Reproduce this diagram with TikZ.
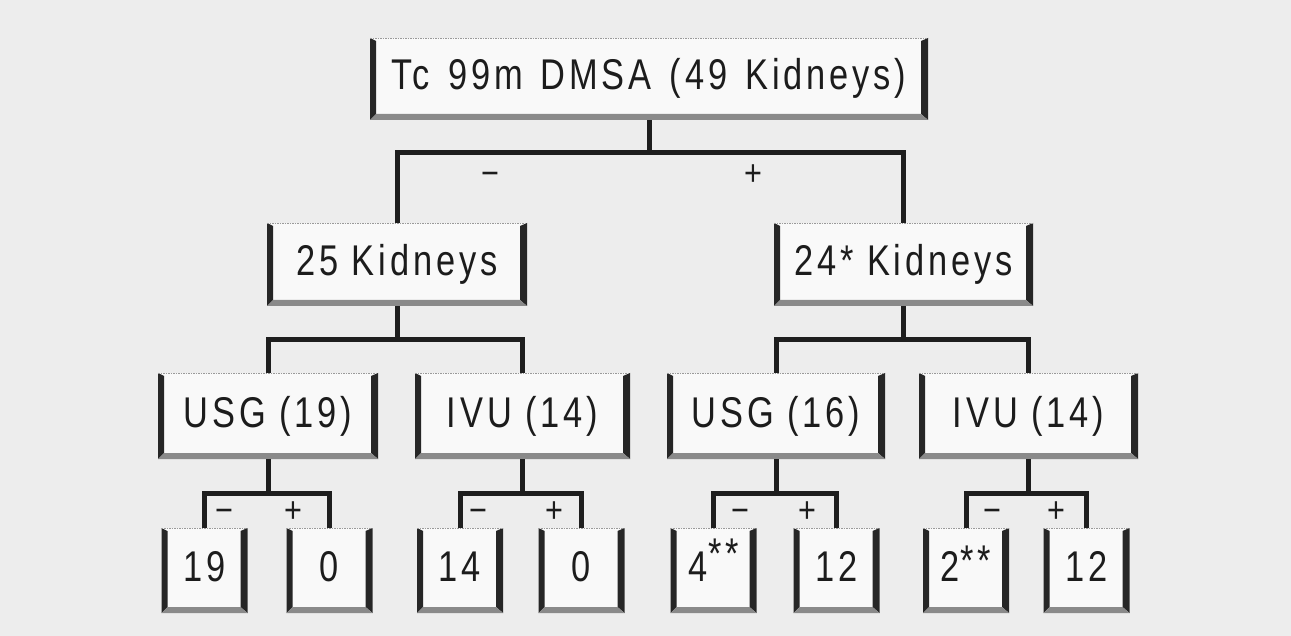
\documentclass[tikz,border=0pt]{standalone}
\usepackage{fontspec}
\setmainfont{Liberation Sans}
\newfontfamily\boxfont[FakeStretch=0.8,LetterSpace=9]{Liberation Sans}
\newfontfamily\signfont[FakeStretch=0.85]{Liberation Sans}
\definecolor{bgc}{HTML}{EDEDED}
\definecolor{boxfill}{HTML}{F9F9F9}
\definecolor{bandc}{HTML}{262626}
\definecolor{botc}{HTML}{8A8A8A}
\definecolor{topc}{HTML}{9A9A9A}
\definecolor{textc}{HTML}{1C1C1C}
\definecolor{linec}{HTML}{1E1E1E}
\begin{document}
\begin{tikzpicture}[x=1pt,y=-1pt,
  bevelbox/.style={inner sep=0pt, fill=boxfill, text=textc,
    text height=30pt, text depth=8pt,
    font=\boxfont\fontsize{43}{43}\selectfont,
    path picture={
      \fill[bandc] (path picture bounding box.north west) -- (path picture bounding box.south west)
        -- ([shift={(6pt,6pt)}]path picture bounding box.south west)
        -- ([shift={(6pt,-3pt)}]path picture bounding box.north west) -- cycle;
      \fill[bandc] (path picture bounding box.north east) -- (path picture bounding box.south east)
        -- ([shift={(-7pt,6pt)}]path picture bounding box.south east)
        -- ([shift={(-7pt,-3pt)}]path picture bounding box.north east) -- cycle;
      \fill[botc] (path picture bounding box.south west) -- (path picture bounding box.south east)
        -- ([shift={(-7pt,6pt)}]path picture bounding box.south east)
        -- ([shift={(6pt,6pt)}]path picture bounding box.south west) -- cycle;
      \draw[topc, line width=1.4pt, dash pattern=on 1.5pt off 1pt]
        ([yshift=-0.7pt]path picture bounding box.north west) -- ([yshift=-0.7pt]path picture bounding box.north east);
    }},
  leafbox/.style={bevelbox, minimum width=86pt, minimum height=85pt},
  midbox/.style={bevelbox, minimum height=86pt},
  conn/.style={draw=linec, line width=5pt, line cap=butt, line join=miter},
  sign/.style={inner sep=0pt, text=textc, text height=24pt, text depth=0pt,
    font=\signfont\fontsize{36}{36}\selectfont}
]
\fill[bgc] (0,0) rectangle (1291,636);
\useasboundingbox (0,0) rectangle (1291,636);

% boxes
\node[bevelbox, minimum width=558pt, minimum height=82pt] (top) at (649,79) {Tc\hspace{18pt}99m\hspace{18pt}DMSA\hspace{18pt}(49\hspace{18pt}Kidneys)};
\node[bevelbox, minimum width=260pt, minimum height=83pt] (kl) at (397,264.5) {25 Kidneys};
\node[bevelbox, minimum width=259pt, minimum height=83pt] (kr) at (903.5,264.5) {24* Kidneys};

\node[midbox, minimum width=220pt] (usgl) at (268,416) {USG (19)};
\node[midbox, minimum width=215pt] (ivul) at (522.5,416) {IVU (14)};
\node[midbox, minimum width=218pt] (usgr) at (776,416) {USG (16)};
\node[midbox, minimum width=219pt] (ivur) at (1028.5,416) {IVU (14)};

\node[leafbox] (la) at (204.5,570.5) {19};
\node[leafbox] (lb) at (329.5,570.5) {0};
\node[leafbox] (lc) at (460,570.5) {14};
\node[leafbox] (ld) at (581.5,570.5) {0};
\node[leafbox] (le) at (713.5,570.5) {4\kern1pt\raisebox{13pt}{**}};
\node[leafbox] (lf) at (836.5,570.5) {12};
\node[leafbox] (lg) at (966,570.5) {2\kern1pt\raisebox{6pt}{**}};
\node[leafbox] (lh) at (1086.5,570.5) {12};

% junctions
\coordinate (j0) at (649,153);
\coordinate (j1) at (397,340);
\coordinate (j2) at (903.5,340);
\coordinate (j3) at (268,493);
\coordinate (j4) at (522.5,493);
\coordinate (j5) at (776,493);
\coordinate (j6) at (1028.5,493);

% connectors
\draw[conn] (top.south) -- (j0);
\draw[conn] (kl.north) |- (j0) -| (kr.north);
\draw[conn] (kl.south) -- (j1);
\draw[conn] (usgl.north) |- (j1) -| (ivul.north);
\draw[conn] (kr.south) -- (j2);
\draw[conn] (usgr.north) |- (j2) -| (ivur.north);
\draw[conn] (usgl.south) -- (j3);
\draw[conn] (la.north) |- (j3) -| (lb.north);
\draw[conn] (ivul.south) -- (j4);
\draw[conn] (lc.north) |- (j4) -| (ld.north);
\draw[conn] (usgr.south) -- (j5);
\draw[conn] (le.north) |- (j5) -| (lf.north);
\draw[conn] (ivur.south) -- (j6);
\draw[conn] (lg.north) |- (j6) -| (lh.north);

% signs
\node[sign] (m0) at (490,174) {−};
\node[sign] (p0) at (753,174) {+};
\node[sign] (m3) at (224,510) {−};
\node[sign] (p3) at (293,510) {+};
\node[sign] (m4) at (478,510) {−};
\node[sign] (p4) at (554,510) {+};
\node[sign] (m5) at (740,510) {−};
\node[sign] (p5) at (807,510) {+};
\node[sign] (m6) at (992,510) {−};
\node[sign] (p6) at (1056,510) {+};
\end{tikzpicture}
\end{document}
